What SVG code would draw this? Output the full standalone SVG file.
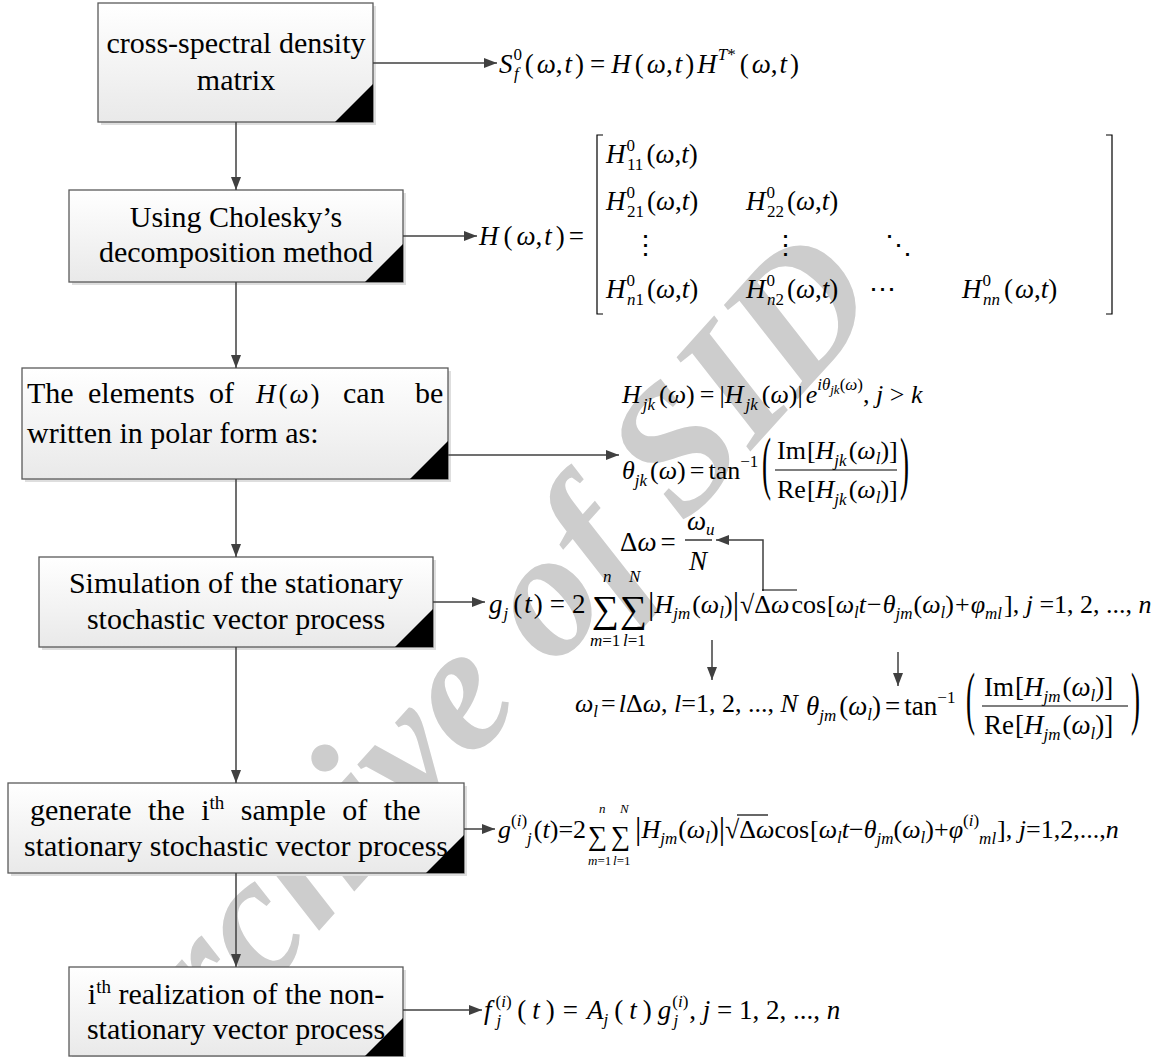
<svg xmlns="http://www.w3.org/2000/svg" width="1161" height="1057" viewBox="0 0 1161 1057">
<defs>
<linearGradient id="bg" x1="0" y1="0" x2="0" y2="1">
<stop offset="0" stop-color="#ffffff"/>
<stop offset="1" stop-color="#e9e9e9"/>
</linearGradient>
<marker id="ah" markerUnits="userSpaceOnUse" markerWidth="14" markerHeight="10" refX="13" refY="5" orient="auto">
<path d="M0,0 L13,5 L0,10 Z" fill="#404040"/>
</marker>
<style>
.box{fill:url(#bg);stroke:#5a5a5a;stroke-width:1.3}
.sh{fill:#dedede}
.tri{fill:#000}
.t{font-family:"Liberation Serif","Times New Roman",serif;font-size:30px;fill:#000}
.m{font-family:"Liberation Serif","Times New Roman","DejaVu Serif",serif;font-size:27px;fill:#000}
.m26{font-size:26px}
.i{font-style:italic}
.s{font-size:17px}
.xs{font-size:13px}
.big{font-size:38px}
.conn{stroke:#404040;stroke-width:1.5;fill:none;marker-end:url(#ah)}
.ln{stroke:#000;stroke-width:1.2;fill:none}
.wm{font-family:"Liberation Serif","Times New Roman",serif;font-size:180px;font-style:italic;font-weight:bold;fill:#cdcdcd}
</style>
</defs>
<rect width="1161" height="1057" fill="#fff"/>

<text id="watermark" class="wm" transform="translate(136,1134) rotate(-48)">Archive of SID</text>

<g id="n1">
<rect class="sh" x="101" y="6" width="275" height="119"/>
<rect class="box" x="98" y="3" width="275" height="119"/>
<path class="tri" d="M373,84 V122 H335 Z"/>
<text class="t" x="236" y="53" text-anchor="middle">cross-spectral density</text>
<text class="t" x="236" y="90" text-anchor="middle">matrix</text>
</g>

<g id="n2">
<rect class="sh" x="72" y="193" width="334" height="92"/>
<rect class="box" x="69" y="190" width="334" height="92"/>
<path class="tri" d="M403,244 V282 H365 Z"/>
<text class="t" x="236" y="227" text-anchor="middle">Using Cholesky’s</text>
<text class="t" x="236" y="262" text-anchor="middle">decomposition method</text>
</g>

<g id="n3">
<rect class="sh" x="25" y="371" width="426" height="111"/>
<rect class="box" x="22" y="368" width="426" height="111"/>
<path class="tri" d="M448,441 V479 H410 Z"/>
<text class="t" x="27" y="403">The</text>
<text class="t" x="88" y="403">elements</text>
<text class="t" x="209" y="403">of</text>
<text class="m" x="256" y="403"><tspan class="i">H</tspan><tspan dx="3">(</tspan><tspan class="i" dx="2">ω</tspan><tspan dx="2">)</tspan></text>
<text class="t" x="343" y="403">can</text>
<text class="t" x="415" y="403">be</text>
<text class="t" x="27" y="443">written in polar form as:</text>
</g>

<g id="n4">
<rect class="sh" x="42" y="560" width="394" height="90"/>
<rect class="box" x="39" y="557" width="394" height="90"/>
<path class="tri" d="M433,609 V647 H395 Z"/>
<text class="t" x="236" y="593" text-anchor="middle">Simulation of the stationary</text>
<text class="t" x="236" y="629" text-anchor="middle">stochastic vector process</text>
</g>

<g id="n5">
<rect class="sh" x="11" y="786" width="456" height="90"/>
<rect class="box" x="8" y="783" width="456" height="90"/>
<path class="tri" d="M464,835 V873 H426 Z"/>
<text class="t" x="30" y="820" word-spacing="9">generate the i<tspan font-size="19" dy="-11">th</tspan><tspan dy="11"> sample of the</tspan></text>
<text class="t" x="236" y="856" text-anchor="middle">stationary stochastic vector process</text>
</g>

<g id="n6">
<rect class="sh" x="72" y="970" width="334" height="89"/>
<rect class="box" x="69" y="967" width="334" height="89"/>
<path class="tri" d="M403,1018 V1056 H365 Z"/>
<text class="t" x="236" y="1004" text-anchor="middle">i<tspan font-size="19" dy="-11">th</tspan><tspan dy="11"> realization of the non-</tspan></text>
<text class="t" x="236" y="1039" text-anchor="middle">stationary vector process</text>
</g>

<g id="connectors">
<path class="conn" d="M236,122 V190"/>
<path class="conn" d="M236,282 V368"/>
<path class="conn" d="M236,479 V557"/>
<path class="conn" d="M236,647 V783"/>
<path class="conn" d="M236,873 V967"/>
<path class="conn" d="M373,63 H497"/>
<path class="conn" d="M403,236 H477"/>
<path class="conn" d="M448,455 H619"/>
<path class="conn" d="M433,602 H485"/>
<path class="conn" d="M464,829 H495"/>
<path class="conn" d="M403,1010 H482"/>
<path class="conn" d="M763,591 V540 H716"/>
<path class="conn" d="M712,640 V680"/>
<path class="conn" d="M898,652 V686"/>
</g>

<g id="eq1">
<text class="m" x="499" y="73"><tspan class="i">S</tspan><tspan class="s" dy="-13" dx="1">0</tspan><tspan class="s i" dx="-8" dy="19">f</tspan><tspan dx="6" dy="-6">(</tspan><tspan class="i" dx="3">ω</tspan>,<tspan class="i" dx="2">t</tspan><tspan dx="3">)</tspan><tspan dx="6">=</tspan><tspan class="i" dx="6">H</tspan><tspan dx="4">(</tspan><tspan class="i" dx="3">ω</tspan>,<tspan class="i" dx="2">t</tspan><tspan dx="3">)</tspan><tspan class="i" dx="3">H</tspan><tspan class="s i" dy="-13" dx="1">T</tspan><tspan class="s">*</tspan><tspan dx="4" dy="13">(</tspan><tspan class="i" dx="3">ω</tspan>,<tspan class="i" dx="2">t</tspan><tspan dx="3">)</tspan></text>
</g>

<g id="eq2">
<text class="m" x="479" y="245"><tspan class="i">H</tspan><tspan dx="5">(</tspan><tspan class="i" dx="4">ω</tspan>,<tspan class="i" dx="2">t</tspan><tspan dx="4">)</tspan><tspan dx="4">=</tspan></text>
<path class="ln" d="M603,135 H597 V314 H603"/>
<path class="ln" d="M1106,135 H1112 V314 H1106"/>
<text class="m" x="606" y="163"><tspan class="i">H</tspan><tspan class="s" dy="-12" dx="1">0</tspan><tspan class="s" dx="-8" dy="19">11</tspan><tspan dx="3" dy="-7">(</tspan><tspan class="i">ω</tspan>,<tspan class="i">t</tspan>)</text>
<text class="m" x="606" y="210"><tspan class="i">H</tspan><tspan class="s" dy="-12" dx="1">0</tspan><tspan class="s" dx="-8" dy="19">21</tspan><tspan dx="3" dy="-7">(</tspan><tspan class="i">ω</tspan>,<tspan class="i">t</tspan>)</text>
<text class="m" x="746" y="210"><tspan class="i">H</tspan><tspan class="s" dy="-12" dx="1">0</tspan><tspan class="s" dx="-8" dy="19">22</tspan><tspan dx="3" dy="-7">(</tspan><tspan class="i">ω</tspan>,<tspan class="i">t</tspan>)</text>
<text class="m" x="645" y="254" text-anchor="middle">⋮</text>
<text class="m" x="785" y="254" text-anchor="middle">⋮</text>
<text class="m" x="898" y="254" text-anchor="middle">⋱</text>
<text class="m" x="606" y="298"><tspan class="i">H</tspan><tspan class="s" dy="-12" dx="1">0</tspan><tspan class="s" dx="-8" dy="19"><tspan class="i">n</tspan>1</tspan><tspan dx="3" dy="-7">(</tspan><tspan class="i">ω</tspan>,<tspan class="i">t</tspan>)</text>
<text class="m" x="746" y="298"><tspan class="i">H</tspan><tspan class="s" dy="-12" dx="1">0</tspan><tspan class="s" dx="-8" dy="19"><tspan class="i">n</tspan>2</tspan><tspan dx="3" dy="-7">(</tspan><tspan class="i">ω</tspan>,<tspan class="i">t</tspan>)</text>
<text class="m" x="882" y="298" text-anchor="middle">⋯</text>
<text class="m" x="962" y="298"><tspan class="i">H</tspan><tspan class="s" dy="-12" dx="1">0</tspan><tspan class="s i" dx="-8" dy="19">nn</tspan><tspan dx="4" dy="-7">(</tspan><tspan class="i" dx="2">ω</tspan>,<tspan class="i">t</tspan>)</text>
</g>

<g id="eq3">
<text class="m m26" x="622" y="403"><tspan class="i">H</tspan><tspan class="s i" dy="7" dx="2">jk</tspan><tspan dx="4" dy="-7">(</tspan><tspan class="i">ω</tspan>)<tspan dx="5">=</tspan><tspan dx="5">|</tspan><tspan class="i">H</tspan><tspan class="s i" dy="7" dx="2">jk</tspan><tspan dx="4" dy="-7">(</tspan><tspan class="i">ω</tspan>)|<tspan class="i" dx="3">e</tspan><tspan class="s i" dy="-13">iθ</tspan><tspan class="xs i" dy="4">jk</tspan><tspan class="s" dy="-4">(</tspan><tspan class="s i">ω</tspan><tspan class="s">)</tspan><tspan dy="13">, </tspan><tspan class="i">j</tspan> &gt; <tspan class="i">k</tspan></text>
</g>

<g id="eq4">
<text class="m m26" x="622" y="479"><tspan class="i">θ</tspan><tspan class="s i" dy="7">jk</tspan><tspan dy="-7" dx="3">(</tspan><tspan class="i">ω</tspan>)<tspan dx="4">=</tspan><tspan dx="4">tan</tspan><tspan class="s" dy="-12">−1</tspan></text>
<text class="m" transform="translate(762,486) scale(1,2.6)">(</text>
<text class="m m26" x="777" y="459">Im<tspan dx="1">[</tspan><tspan class="i">H</tspan><tspan class="s i" dy="7">jk</tspan><tspan dy="-7" dx="2">(</tspan><tspan class="i">ω</tspan><tspan class="s i" dy="5">l</tspan><tspan dy="-5">)</tspan>]</text>
<path class="ln" d="M775,470 H897"/>
<text class="m m26" x="777" y="498">Re<tspan dx="1">[</tspan><tspan class="i">H</tspan><tspan class="s i" dy="7">jk</tspan><tspan dy="-7" dx="2">(</tspan><tspan class="i">ω</tspan><tspan class="s i" dy="5">l</tspan><tspan dy="-5">)</tspan>]</text>
<text class="m" transform="translate(900,486) scale(1,2.6)">)</text>
</g>

<g id="eq5">
<text class="m" x="620" y="551">Δ<tspan class="i">ω</tspan><tspan dx="4">=</tspan></text>
<text class="m" x="687" y="530"><tspan class="i">ω</tspan><tspan class="s i" dy="5">u</tspan></text>
<path class="ln" d="M685,540 H712"/>
<text class="m i" x="689" y="570">N</text>
</g>

<g id="eq6">
<text class="m" x="489" y="613"><tspan class="i">g</tspan><tspan class="s i" dy="6" dx="1">j</tspan><tspan dy="-6" dx="5">(</tspan><tspan class="i" dx="2">t</tspan><tspan dx="2">)</tspan><tspan dx="7">=</tspan><tspan dx="7">2</tspan></text>
<text class="m big" x="592" y="622">∑</text>
<text class="m big" x="620" y="622">∑</text>
<text class="m s i" x="603" y="582">n</text>
<text class="m s i" x="629" y="582">N</text>
<text class="m s" x="590" y="646"><tspan class="i">m</tspan>=1</text>
<text class="m s" x="623" y="646"><tspan class="i">l</tspan>=1</text>
<text class="m m26" x="648" y="613"><tspan font-size="32" dy="1">|</tspan><tspan class="i" dy="-1">H</tspan><tspan class="s i" dy="6">jm</tspan><tspan dy="-6" dx="2">(</tspan><tspan class="i">ω</tspan><tspan class="s i" dy="5">l</tspan><tspan dy="-5">)</tspan><tspan font-size="32" dy="1">|</tspan><tspan dy="-1" dx="1">√</tspan><tspan>Δ</tspan><tspan class="i">ω</tspan><tspan dx="2">cos</tspan><tspan dx="1">[</tspan><tspan class="i">ω</tspan><tspan class="s i" dy="5">l</tspan><tspan class="i" dy="-5">t</tspan><tspan dx="1">−</tspan><tspan class="i" dx="1">θ</tspan><tspan class="s i" dy="6">jm</tspan><tspan dy="-6" dx="1">(</tspan><tspan class="i">ω</tspan><tspan class="s i" dy="5">l</tspan><tspan dy="-5">)</tspan><tspan dx="1">+</tspan><tspan class="i" dx="1">φ</tspan><tspan class="s i" dy="6">ml</tspan><tspan dy="-6" dx="2">]</tspan>, <tspan class="i">j</tspan> =1, 2, ..., <tspan class="i">n</tspan></text>
<path class="ln" d="M762,590 H797"/>
</g>

<g id="eq7">
<text class="m m26" x="575" y="712"><tspan class="i">ω</tspan><tspan class="s i" dy="5">l</tspan><tspan dy="-5" dx="3">=</tspan><tspan class="i" dx="3">l</tspan>Δ<tspan class="i">ω</tspan>, <tspan class="i">l</tspan>=1, 2, ..., <tspan class="i">N</tspan></text>
</g>

<g id="eq8">
<text class="m" x="806" y="715"><tspan class="i">θ</tspan><tspan class="s i" dy="6">jm</tspan><tspan dy="-6" dx="3">(</tspan><tspan class="i">ω</tspan><tspan class="s i" dy="5">l</tspan><tspan dy="-5">)</tspan><tspan dx="4">=</tspan><tspan dx="4">tan</tspan><tspan class="s" dy="-12">−1</tspan></text>
<text class="m" transform="translate(966,721) scale(1,2.6)">(</text>
<text class="m" x="984" y="696">Im<tspan dx="1">[</tspan><tspan class="i">H</tspan><tspan class="s i" dy="6">jm</tspan><tspan dy="-6" dx="2">(</tspan><tspan class="i">ω</tspan><tspan class="s i" dy="5">l</tspan><tspan dy="-5">)</tspan>]</text>
<path class="ln" d="M982,706 H1128"/>
<text class="m" x="984" y="734">Re<tspan dx="1">[</tspan><tspan class="i">H</tspan><tspan class="s i" dy="6">jm</tspan><tspan dy="-6" dx="2">(</tspan><tspan class="i">ω</tspan><tspan class="s i" dy="5">l</tspan><tspan dy="-5">)</tspan>]</text>
<text class="m" transform="translate(1131,721) scale(1,2.6)">)</text>
</g>

<g id="eq9">
<text class="m m26" x="498" y="838"><tspan class="i">g</tspan><tspan class="s" dy="-12">(<tspan class="i">i</tspan>)</tspan><tspan class="s i" dy="18">j</tspan><tspan dy="-6" dx="2">(</tspan><tspan class="i">t</tspan>)=2</text>
<text class="m" font-size="34" x="588" y="845">∑</text>
<text class="m" font-size="34" x="611" y="845">∑</text>
<text class="m xs i" x="599" y="813">n</text>
<text class="m xs i" x="620" y="813">N</text>
<text class="m xs" x="588" y="865"><tspan class="i">m</tspan>=1</text>
<text class="m xs" x="613" y="865"><tspan class="i">l</tspan>=1</text>
<text class="m m26" x="635" y="838"><tspan font-size="32" dy="1">|</tspan><tspan class="i" dy="-1">H</tspan><tspan class="s i" dy="6">jm</tspan><tspan dy="-6" dx="1">(</tspan><tspan class="i">ω</tspan><tspan class="s i" dy="5">l</tspan><tspan dy="-5">)</tspan><tspan font-size="32" dy="1">|</tspan><tspan dy="-1">√</tspan>Δ<tspan class="i">ω</tspan>cos<tspan dx="1">[</tspan><tspan class="i">ω</tspan><tspan class="s i" dy="5">l</tspan><tspan class="i" dy="-5">t</tspan>−<tspan class="i">θ</tspan><tspan class="s i" dy="6">jm</tspan><tspan dy="-6">(</tspan><tspan class="i">ω</tspan><tspan class="s i" dy="5">l</tspan><tspan dy="-5">)</tspan>+<tspan class="i">φ</tspan><tspan class="s" dy="-12">(<tspan class="i">i</tspan>)</tspan><tspan class="s i" dy="18">ml</tspan><tspan dy="-6" dx="1">]</tspan>, <tspan class="i">j</tspan>=1,2,...,<tspan class="i">n</tspan></text>
<path class="ln" d="M737,815 H768"/>
</g>

<g id="eq10">
<text class="m" x="484" y="1019"><tspan class="i">f</tspan><tspan class="s" dy="-12" dx="4">(<tspan class="i">i</tspan>)</tspan><tspan class="s i" dx="-15" dy="19">j</tspan><tspan dx="16" dy="-7">(</tspan><tspan class="i" dx="6">t</tspan><tspan dx="6">)</tspan><tspan dx="8">=</tspan><tspan class="i" dx="9">A</tspan><tspan class="s i" dy="6">j</tspan><tspan dy="-6" dx="6">(</tspan><tspan class="i" dx="6">t</tspan><tspan dx="6">)</tspan><tspan class="i" dx="6">g</tspan><tspan class="s" dy="-12" dx="1">(<tspan class="i">i</tspan>)</tspan><tspan class="s i" dx="-15" dy="19">j</tspan><tspan dx="11" dy="-7">, </tspan><tspan class="i">j</tspan> = 1, 2, ..., <tspan class="i">n</tspan></text>
</g>
</svg>
